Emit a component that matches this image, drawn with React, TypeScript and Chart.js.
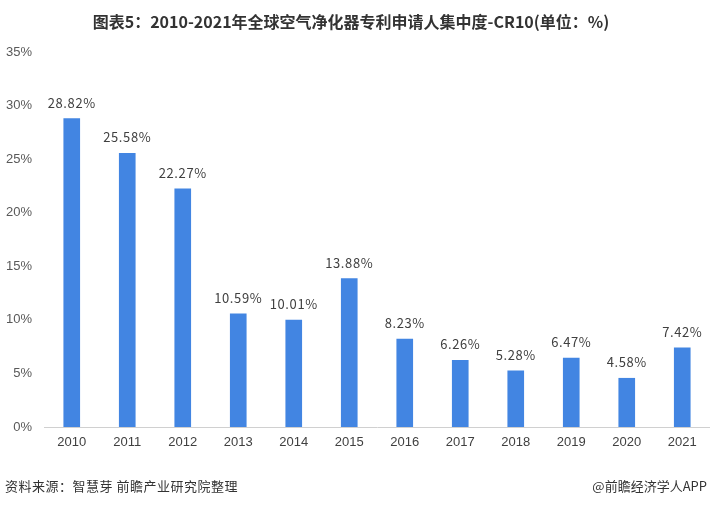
import React, { useEffect, useRef } from "react";
import { Chart, registerables } from "chart.js";

Chart.register(...registerables);

const categories = ["2010", "2011", "2012", "2013", "2014", "2015", "2016", "2017", "2018", "2019", "2020", "2021"];
const values = [28.82, 25.58, 22.27, 10.59, 10.01, 13.88, 8.23, 6.26, 5.28, 6.47, 4.58, 7.42];
const titleText = "图表5：2010-2021年全球空气净化器专利申请人集中度-CR10(单位：%)";
const sourceText = "资料来源：智慧芽 前瞻产业研究院整理";
const brandText = "@前瞻经济学人APP";

const FONT = "'Noto Sans CJK SC', 'Noto Sans', sans-serif";
const NUMFONT = "'Liberation Sans', Arial, sans-serif";

const extras = {
  id: "extras",
  afterDatasetsDraw(chart: any) {
    const ctx = chart.ctx;
    const meta = chart.getDatasetMeta(0);
    ctx.save();
    ctx.font = `13px ${FONT}`;
    (ctx as any).letterSpacing = "0.6px";
    ctx.fillStyle = "#404040";
    ctx.textAlign = "center";
    ctx.textBaseline = "bottom";
    meta.data.forEach((bar: any, i: number) => {
      ctx.fillText(values[i].toFixed(2) + "%", bar.x, bar.y - 9);
    });
    ctx.restore();
  },
  afterDraw(chart: any) {
    const ctx = chart.ctx;
    ctx.save();
    ctx.font = `bold 16px ${FONT}`;
    ctx.fillStyle = "#333333";
    ctx.textAlign = "center";
    ctx.textBaseline = "middle";
    ctx.fillText(titleText, 351, 22);
    ctx.font = `13px ${FONT}`;
    (ctx as any).letterSpacing = "0.5px";
    ctx.fillStyle = "#333333";
    ctx.textAlign = "left";
    ctx.fillText(sourceText, 5, 486);
    (ctx as any).letterSpacing = "0px";
    ctx.textAlign = "right";
    ctx.fillText(brandText, 707, 486);
    ctx.restore();
  },
};

export default function App() {
  const ref = useRef<HTMLCanvasElement>(null);
  useEffect(() => {
    if (!ref.current) return;
    const chart = new Chart(ref.current, {
      type: "bar",
      data: {
        labels: categories,
        datasets: [
          {
            data: values,
            backgroundColor: "#4285E2",
            barPercentage: 0.6,
            categoryPercentage: 0.5,
          },
        ],
      },
      options: {
        animation: false,
        responsive: false,
        layout: { padding: { top: 52, bottom: 49, left: 0, right: 0 } },
        plugins: { legend: { display: false }, tooltip: { enabled: false } },
        scales: {
          x: {
            grid: { display: false, drawTicks: false },
            border: { color: "#d0d0d0" },
            ticks: { color: "#404040", font: { size: 13, family: NUMFONT }, padding: 8 },
            afterFit(s: any) { s.height = 30; },
          },
          y: {
            min: 0,
            max: 35,
            grid: { display: false, drawTicks: false },
            border: { display: false },
            ticks: {
              stepSize: 5,
              color: "#595959",
              font: { size: 13, family: NUMFONT },
              padding: 12,
              callback: (v: any) => v + "%",
            },
            afterFit(s: any) { s.width = 44; },
          },
        },
      },
      plugins: [extras],
    });
    return () => chart.destroy();
  }, []);
  return (
    <div style={{ position: "absolute", left: 0, top: 0, width: 710, height: 506, background: "#fff" }}>
      <canvas ref={ref} width={710} height={506} style={{ display: "block" }} />
    </div>
  );
}
